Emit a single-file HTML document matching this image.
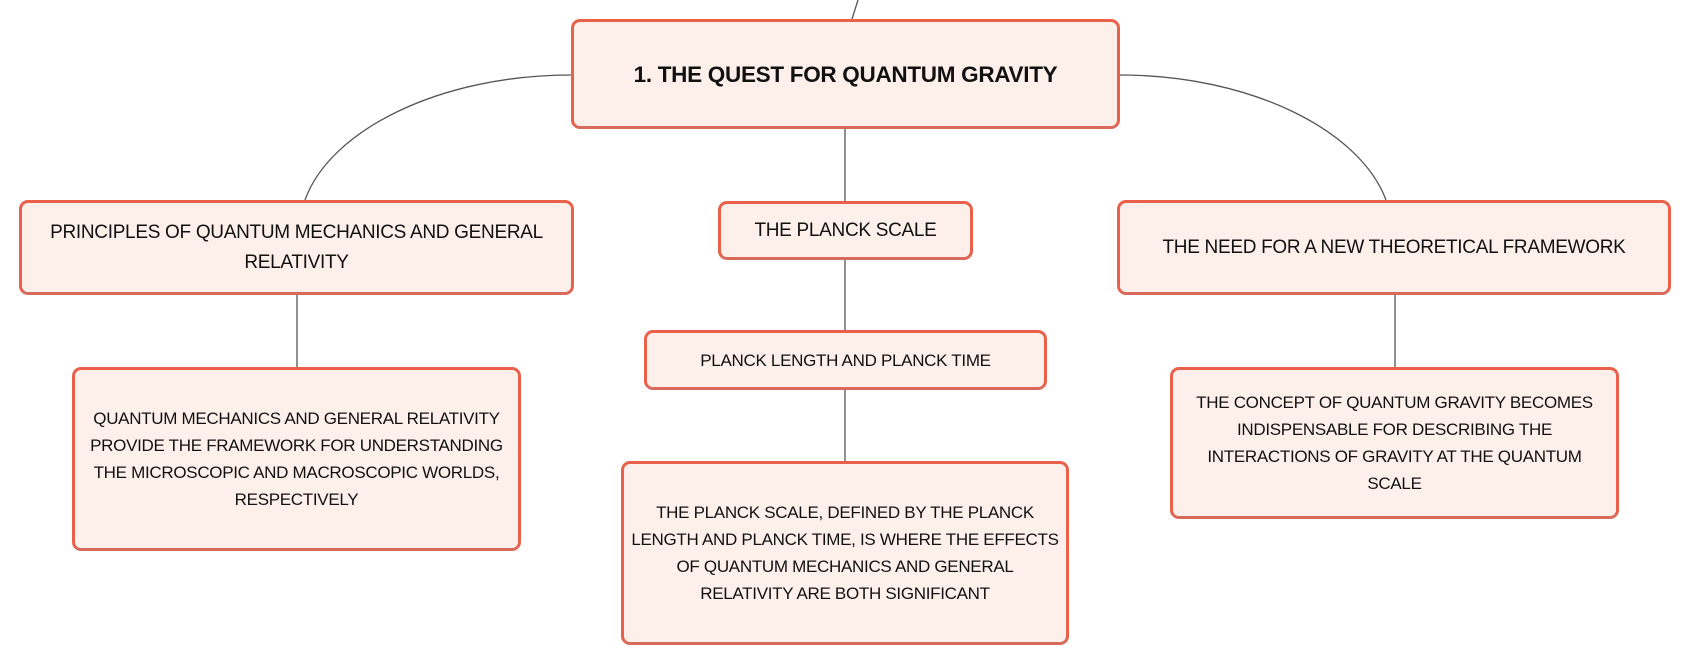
<!DOCTYPE html>
<html><head><meta charset="utf-8"><style>
body{margin:0;width:1692px;height:667px;background:#fff;position:relative;overflow:hidden;font-family:"Liberation Sans",sans-serif;}
.n{position:absolute;box-sizing:border-box;border:3px solid #e9604b;border-bottom-color:#d86a5c;border-radius:9px;background:#fdf0eb;display:flex;align-items:center;justify-content:center;text-align:center;color:#111;font-size:17px;line-height:27px;letter-spacing:-0.3px;white-space:nowrap;}
svg{position:absolute;left:0;top:0}
</style></head><body>
<svg width="1692" height="667">
<g stroke="#555" stroke-width="1.3" fill="none">
<path d="M858 0 L852 19"/>
<path d="M571 75 C440 75 330 130 305 200"/>
<path d="M1120 75 C1250 75 1360 130 1386 200"/>
<path d="M845 129 V201"/>
<path d="M845 260 V330"/>
<path d="M845 390 V461"/>
<path d="M297 295 V367"/>
<path d="M1395 295 V367"/>
</g></svg>
<div class="n" style="left:571px;top:19px;width:549px;height:110px;font-weight:bold;font-size:22.5px;">1. THE QUEST FOR QUANTUM GRAVITY</div>
<div class="n" style="left:19px;top:200px;width:555px;height:95px;font-size:19px;line-height:30px;">PRINCIPLES OF QUANTUM MECHANICS AND GENERAL<br>RELATIVITY</div>
<div class="n" style="left:718px;top:201px;width:255px;height:59px;font-size:19px;">THE PLANCK SCALE</div>
<div class="n" style="left:1117px;top:200px;width:554px;height:95px;font-size:19px;">THE NEED FOR A NEW THEORETICAL FRAMEWORK</div>
<div class="n" style="left:644px;top:330px;width:403px;height:60px;font-size:17px;">PLANCK LENGTH AND PLANCK TIME</div>
<div class="n" style="left:72px;top:367px;width:449px;height:184px;">QUANTUM MECHANICS AND GENERAL RELATIVITY<br>PROVIDE THE FRAMEWORK FOR UNDERSTANDING<br>THE MICROSCOPIC AND MACROSCOPIC WORLDS,<br>RESPECTIVELY</div>
<div class="n" style="left:621px;top:461px;width:448px;height:184px;">THE PLANCK SCALE, DEFINED BY THE PLANCK<br>LENGTH AND PLANCK TIME, IS WHERE THE EFFECTS<br>OF QUANTUM MECHANICS AND GENERAL<br>RELATIVITY ARE BOTH SIGNIFICANT</div>
<div class="n" style="left:1170px;top:367px;width:449px;height:152px;">THE CONCEPT OF QUANTUM GRAVITY BECOMES<br>INDISPENSABLE FOR DESCRIBING THE<br>INTERACTIONS OF GRAVITY AT THE QUANTUM<br>SCALE</div>
</body></html>
